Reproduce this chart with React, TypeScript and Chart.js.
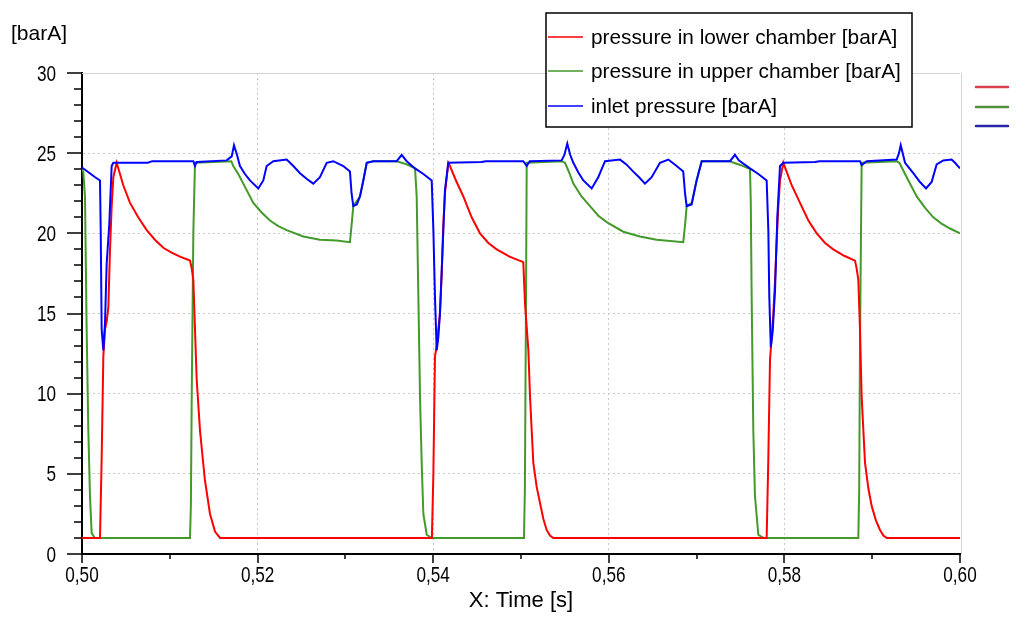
import React, { useEffect, useRef } from 'react';
import { Chart, registerables } from 'chart.js';

Chart.register(...registerables);

// ---------- data ----------
const lowerT = [
  0.5, 0.50205, 0.50224, 0.50243, 0.50262, 0.50281, 0.503, 0.50319, 0.50338, 0.50357, 0.50395,
  0.5047, 0.50547, 0.5064, 0.50737, 0.5083, 0.50926, 0.5102, 0.51116, 0.5123,
  0.5125, 0.51268, 0.51287, 0.51306, 0.51344, 0.514, 0.51458, 0.51515, 0.51572,
  0.53985, 0.54002, 0.5402, 0.5404, 0.54058, 0.54077, 0.54097, 0.54115, 0.54134, 0.54172,
  0.54191, 0.54267, 0.54343, 0.54438, 0.54533, 0.54628, 0.54723, 0.5487, 0.55026,
  0.55046, 0.55084, 0.55103, 0.5514, 0.55178, 0.55216, 0.55254, 0.55292, 0.5533, 0.55368,
  0.57798, 0.57817, 0.57836, 0.57855, 0.57874, 0.57893, 0.57912, 0.57931, 0.5795, 0.57988,
  0.58083, 0.58178, 0.58273, 0.58368, 0.58463, 0.58557, 0.5868, 0.58804,
  0.58823, 0.58842, 0.58861, 0.5888, 0.58918, 0.58956, 0.58994, 0.59042, 0.59089, 0.59127, 0.59165,
  0.6,
];
const lowerP = [
  1.0, 1.0, 6.0, 12.3, 14.0, 14.5, 15.4, 19.0, 21.7, 23.5, 24.4,
  23.0, 21.9, 21.0, 20.2, 19.6, 19.1, 18.8, 18.55, 18.3,
  17.8, 17.1, 14.0, 10.9, 7.7, 4.6, 2.5, 1.4, 1.0,
  1.0, 5.0, 12.3, 13.0, 14.0, 15.0, 17.5, 20.5, 22.5, 24.4,
  24.2, 23.2, 22.3, 21.0, 20.0, 19.4, 19.0, 18.55, 18.2,
  15.6, 12.7, 9.8, 5.7, 4.2, 3.2, 2.2, 1.5, 1.15, 1.0,
  1.0, 6.0, 12.1, 13.5, 15.0, 17.0, 19.5, 21.7, 23.3, 24.4,
  23.0, 21.9, 20.8, 20.0, 19.4, 19.0, 18.6, 18.3,
  17.8, 17.1, 14.0, 9.8, 5.7, 4.1, 3.0, 2.1, 1.5, 1.15, 1.0,
  1.0,
];

const upperT = [
  0.5, 0.50015, 0.50034, 0.50053, 0.50072, 0.50091, 0.5011, 0.50148,
  0.5123, 0.5124, 0.5125, 0.51268, 0.51287,
  0.517, 0.51723, 0.5178, 0.51837, 0.51951, 0.52046, 0.52141, 0.52236, 0.52331, 0.5252, 0.5271, 0.529, 0.53052,
  0.5307, 0.5309, 0.53128, 0.53166, 0.53204, 0.53243, 0.53318,
  0.53584, 0.53641, 0.53698, 0.53793,
  0.53812, 0.53831, 0.5385, 0.53869, 0.53888, 0.53926, 0.5398,
  0.55034, 0.55044, 0.55055, 0.55065,
  0.55463, 0.55501, 0.55548, 0.55596, 0.5569, 0.55786, 0.55881, 0.55976, 0.56165, 0.56355, 0.56545, 0.56848,
  0.56868, 0.56887, 0.56944, 0.57, 0.57058,
  0.5738, 0.574, 0.57505, 0.57608,
  0.57617, 0.57627, 0.57646, 0.57665, 0.57703, 0.5776,
  0.58842, 0.58852, 0.58862, 0.5888,
  0.59279, 0.59309, 0.59393, 0.59507, 0.596, 0.59696, 0.5979, 0.59886, 0.6,
];
const upperP = [
  24.0, 23.8, 22.3, 14.0, 7.7, 3.6, 1.3, 1.0,
  1.0, 3.0, 10.0, 20.0, 24.4,
  24.5, 24.2, 23.7, 23.1, 21.9, 21.3, 20.8, 20.45, 20.2, 19.8, 19.6, 19.55, 19.45,
  20.5, 21.7, 22.0, 22.3, 23.3, 24.4, 24.5,
  24.5, 24.4, 24.3, 24.05,
  22.3, 16.05, 9.8, 5.66, 2.5, 1.2, 1.0,
  1.0, 4.0, 14.0, 24.4,
  24.5, 24.4, 23.8, 23.1, 22.3, 21.7, 21.1, 20.7, 20.1, 19.8, 19.6, 19.45,
  20.5, 21.7, 21.9, 23.3, 24.5,
  24.5, 24.45, 24.25, 24.0,
  22.0, 16.05, 7.7, 3.6, 1.2, 1.0,
  1.0, 4.0, 14.0, 24.4,
  24.5, 24.4, 23.5, 22.3, 21.6, 21.0, 20.6, 20.3, 20.0,
];

const inletT = [
  0.5, 0.5005, 0.501, 0.5015, 0.50205, 0.50213, 0.50224, 0.50243, 0.50262, 0.50281, 0.50311, 0.50338, 0.50357,
  0.5075, 0.508, 0.51268, 0.51287, 0.51306, 0.51648, 0.51705, 0.51731, 0.51765, 0.51799, 0.51856, 0.51913,
  0.52008, 0.52065, 0.52103, 0.52179, 0.52331, 0.52407, 0.52483, 0.52558, 0.52634, 0.5271, 0.52787, 0.52862,
  0.52976, 0.53052, 0.5307, 0.5309, 0.5313, 0.53166, 0.53204, 0.53243, 0.53318, 0.53584, 0.53641, 0.53698,
  0.53793, 0.53888, 0.53983, 0.54002, 0.5402, 0.5404, 0.54058, 0.54077, 0.54097, 0.54134, 0.54172,
  0.5455, 0.546, 0.55026, 0.55065, 0.551, 0.55463, 0.55495, 0.55527, 0.5556, 0.55596, 0.55653, 0.5571,
  0.55805, 0.5588, 0.55957, 0.56128, 0.562, 0.56279, 0.56345, 0.56412, 0.56488, 0.56583, 0.56678, 0.56773,
  0.56848, 0.56868, 0.56887, 0.56944, 0.57, 0.57058, 0.5738, 0.57437, 0.5748, 0.57608, 0.57703, 0.57798,
  0.57817, 0.57828, 0.57845, 0.57867, 0.57893, 0.5792, 0.5795, 0.57988, 0.5835, 0.584, 0.58861, 0.5888,
  0.58937, 0.59279, 0.59305, 0.59325, 0.59374, 0.59468, 0.59544, 0.59613, 0.59677, 0.59734, 0.59809,
  0.59904, 0.59943, 0.6,
];
const inletP = [
  24.1, 23.9, 23.7, 23.5, 23.3, 20.2, 14.0, 12.7, 14.4, 18.1, 20.6, 24.2, 24.4,
  24.4, 24.5, 24.5, 24.2, 24.45, 24.55, 24.8, 25.5, 24.9, 24.2, 23.7, 23.3,
  22.8, 23.3, 24.2, 24.5, 24.6, 24.2, 23.75, 23.4, 23.1, 23.5, 24.4, 24.5,
  24.2, 23.85, 22.5, 21.7, 21.8, 22.3, 23.3, 24.4, 24.5, 24.5, 24.9, 24.5,
  24.05, 23.7, 23.3, 20.2, 16.05, 12.7, 13.5, 15.0, 17.7, 22.7, 24.4,
  24.45, 24.5, 24.5, 24.2, 24.5, 24.55, 24.9, 25.6, 24.9, 24.4, 23.8, 23.3,
  22.8, 23.5, 24.5, 24.6, 24.3, 23.85, 23.5, 23.1, 23.5, 24.4, 24.6, 24.2,
  23.85, 22.5, 21.7, 21.8, 23.3, 24.5, 24.5, 24.9, 24.55, 24.05, 23.7, 23.3,
  20.2, 16.05, 12.9, 13.9, 16.4, 21.1, 24.2, 24.4, 24.45, 24.5, 24.5, 24.25,
  24.5, 24.6, 25.0, 25.5, 24.4, 23.75, 23.2, 22.8, 23.2, 24.3, 24.55,
  24.6, 24.4, 24.05,
];

const seriesLabels = [
  'pressure in lower chamber [barA]',
  'pressure in upper chamber [barA]',
  'inlet pressure [barA]',
];
const seriesColors = ['#ff0000', '#43992a', '#0000ff'];
const sideMarkColors = ['#d9404f', '#4f9038', '#2626a6'];

const xMajorTicks = [0.5, 0.52, 0.54, 0.56, 0.58, 0.6];
const xMinorTicks = [0.51, 0.53, 0.55, 0.57, 0.59];
const yMajorTicks = [0, 5, 10, 15, 20, 25, 30];
const yMinorTicks = [1, 2, 3, 4, 6, 7, 8, 9, 11, 12, 13, 14, 16, 17, 18, 19, 21, 22, 23, 24, 26, 27, 28, 29];
const yUnitLabel = '[barA]';
const xAxisTitle = 'X: Time [s]';

const textFont = "'Liberation Sans', Arial, sans-serif";
const tickFontPx = 22;
const tickSqueeze = 0.78;

const toPoints = (ts: number[], vs: number[]) => ts.map((t, i) => ({ x: t, y: vs[i] }));
const fmtX = (v: number) => v.toFixed(2).replace('.', ',');

const decorPlugin = {
  id: 'decor',
  beforeDatasetsDraw(chart: any) {
    const { ctx, chartArea: a } = chart;
    ctx.save();
    ctx.strokeStyle = '#d4d4d4';
    ctx.lineWidth = 1;
    ctx.beginPath();
    ctx.moveTo(a.left, a.top + 0.5);
    ctx.lineTo(a.right, a.top + 0.5);
    ctx.moveTo(a.right + 1.5, a.top);
    ctx.lineTo(a.right + 1.5, a.bottom);
    ctx.stroke();
    ctx.restore();
  },
  afterDraw(chart: any) {
    const { ctx, chartArea: a, scales } = chart;
    const xs = scales.x;
    const ys = scales.y;
    ctx.save();
    // axis ticks
    ctx.strokeStyle = '#000';
    ctx.lineWidth = 1.5;
    ctx.beginPath();
    for (const v of yMajorTicks) {
      const py = Math.round(ys.getPixelForValue(v));
      ctx.moveTo(a.left - 15, py);
      ctx.lineTo(a.left, py);
    }
    for (const v of yMinorTicks) {
      const py = Math.round(ys.getPixelForValue(v));
      ctx.moveTo(a.left - 8, py);
      ctx.lineTo(a.left, py);
    }
    for (const v of xMajorTicks) {
      const px = Math.round(xs.getPixelForValue(v));
      ctx.moveTo(px, a.bottom);
      ctx.lineTo(px, a.bottom + 9);
    }
    for (const v of xMinorTicks) {
      const px = Math.round(xs.getPixelForValue(v));
      ctx.moveTo(px, a.bottom);
      ctx.lineTo(px, a.bottom + 5);
    }
    ctx.stroke();

    // tick labels (narrow, tall digits)
    ctx.fillStyle = '#000';
    ctx.font = `${tickFontPx}px ${textFont}`;
    ctx.textBaseline = 'middle';
    ctx.textAlign = 'right';
    for (const v of yMajorTicks) {
      const py = ys.getPixelForValue(v);
      ctx.save();
      ctx.translate(56, py + 1.5);
      ctx.scale(tickSqueeze, 1);
      ctx.fillText(String(v), 0, 0);
      ctx.restore();
    }
    ctx.textAlign = 'center';
    for (const v of xMajorTicks) {
      const px = xs.getPixelForValue(v);
      ctx.save();
      ctx.translate(px, a.bottom + 22);
      ctx.scale(tickSqueeze, 1);
      ctx.fillText(fmtX(v), 0, 0);
      ctx.restore();
    }

    // unit label
    ctx.font = `21px ${textFont}`;
    ctx.textAlign = 'left';
    ctx.textBaseline = 'middle';
    ctx.fillText(yUnitLabel, 11, 34);

    // legend box
    const bx = 546, by = 13, bw = 366, bh = 114;
    ctx.fillStyle = '#fff';
    ctx.fillRect(bx, by, bw, bh);
    ctx.strokeStyle = '#000';
    ctx.lineWidth = 1.5;
    ctx.strokeRect(bx, by, bw, bh);
    const rowY = [37, 71, 106];
    ctx.font = `20.8px ${textFont}`;
    seriesLabels.forEach((lab, i) => {
      ctx.strokeStyle = seriesColors[i];
      ctx.lineWidth = 1.5;
      ctx.beginPath();
      ctx.moveTo(548, rowY[i]);
      ctx.lineTo(583, rowY[i]);
      ctx.stroke();
      ctx.fillStyle = '#000';
      ctx.fillText(lab, 591, rowY[i] + 1);
    });

    // side marks on the right
    const sideY = [87, 107, 126];
    sideMarkColors.forEach((c, i) => {
      ctx.strokeStyle = c;
      ctx.lineWidth = 2.5;
      ctx.lineCap = 'round';
      ctx.beginPath();
      ctx.moveTo(976, sideY[i]);
      ctx.lineTo(1008, sideY[i]);
      ctx.stroke();
    });
    ctx.restore();
  },
};

export default function App() {
  const canvasRef = useRef<HTMLCanvasElement | null>(null);

  useEffect(() => {
    const canvas = canvasRef.current;
    if (!canvas) return;
    const mk = (i: number, ts: number[], vs: number[], order: number) => ({
      label: seriesLabels[i],
      data: toPoints(ts, vs),
      borderColor: seriesColors[i],
      borderWidth: 2,
      pointRadius: 0,
      tension: 0,
      order,
    });
    const chart = new Chart(canvas, {
      type: 'line',
      data: {
        datasets: [
          mk(0, lowerT, lowerP, 1),
          mk(1, upperT, upperP, 2),
          mk(2, inletT, inletP, 0),
        ],
      },
      options: {
        animation: false,
        responsive: true,
        maintainAspectRatio: false,
        parsing: false as any,
        layout: { padding: { left: 0, right: 67, top: 73, bottom: 0 } },
        plugins: {
          legend: { display: false },
          tooltip: { enabled: false },
          title: { display: false },
        },
        scales: {
          x: {
            type: 'linear',
            min: 0.5,
            max: 0.6,
            afterFit: (s: any) => { s.height = 72; },
            afterBuildTicks: (s: any) => { s.ticks = xMajorTicks.map((v) => ({ value: v })); },
            ticks: { display: false },
            grid: {
              drawTicks: false,
              color: (c: any) => (c.tick && c.tick.value > 0.5001 && c.tick.value < 0.5999 ? '#c8c8c8' : 'transparent'),
              lineWidth: 1,
            },
            border: { display: true, color: '#000', width: 2, dash: [2, 3] },
            title: {
              display: true,
              text: xAxisTitle,
              color: '#000',
              font: { family: textFont, size: 22 },
              padding: { top: 0, bottom: 12 },
            },
          },
          y: {
            type: 'linear',
            min: 0,
            max: 30,
            afterFit: (s: any) => { s.width = 82; },
            afterBuildTicks: (s: any) => { s.ticks = yMajorTicks.map((v) => ({ value: v })); },
            ticks: { display: false },
            grid: {
              drawTicks: false,
              color: (c: any) => (c.tick && c.tick.value > 0.01 && c.tick.value < 29.99 ? '#c8c8c8' : 'transparent'),
              lineWidth: 1,
            },
            border: { display: true, color: '#000', width: 2, dash: [2, 3] },
          },
        },
      },
      plugins: [decorPlugin],
    });
    return () => chart.destroy();
  }, []);

  return (
    <div style={{ position: 'fixed', left: 0, top: 0, width: 1027, height: 626, background: '#fff' }}>
      <canvas ref={canvasRef} />
    </div>
  );
}
